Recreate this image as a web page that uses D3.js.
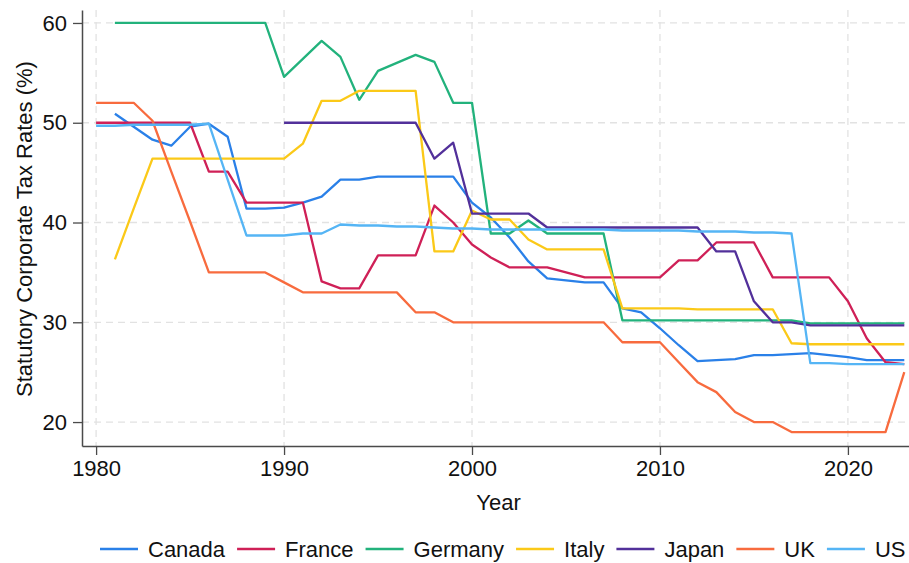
<!DOCTYPE html>
<html>
<head>
<meta charset="utf-8">
<script src="https://cdn.jsdelivr.net/npm/d3@7"></script>
<style>
  body { margin: 0; background: #fff; }
  text { font-family: "Liberation Sans", Arial, Helvetica, sans-serif; }
</style>
</head>
<body>
<div id="chart"></div>
<script>
// data

const countries = ['Canada', 'France', 'Germany', 'Italy', 'Japan', 'UK', 'US'];
const colors = ['#2a80e8', '#cf2057', '#22b27c', '#fbc918', '#52309a', '#f86b3e', '#55b5f5'];

const canadaYears = d3.range(1981, 2024);
const canadaRates = [50.9, 49.6, 48.3, 47.7, 49.6, 49.9, 48.6, 41.4, 41.4, 41.5,
    42.0, 42.6, 44.3, 44.3, 44.6, 44.6, 44.6, 44.6, 44.6, 42.0,
    40.5, 38.5, 36.1, 34.4, 34.2, 34.0, 34.0, 31.4, 31.0, 29.4,
    27.7, 26.1, 26.2, 26.3, 26.7, 26.7, 26.8, 26.9, 26.7, 26.5,
    26.2, 26.2, 26.2];

const franceYears = d3.range(1980, 2024);
const franceRates = [50.0, 50.0, 50.0, 50.0, 50.0, 50.0, 45.1, 45.1, 42.0, 42.0,
    42.0, 42.0, 34.1, 33.4, 33.4, 36.7, 36.7, 36.7, 41.7, 40.0,
    37.8, 36.5, 35.5, 35.5, 35.5, 35.0, 34.5, 34.5, 34.5, 34.5,
    34.5, 36.2, 36.2, 38.0, 38.0, 38.0, 34.5, 34.5, 34.5, 34.5,
    32.1, 28.4, 26.0, 25.8];

const germanyYears = d3.range(1981, 2024);
const germanyRates = [60.0, 60.0, 60.0, 60.0, 60.0, 60.0, 60.0, 60.0, 60.0, 54.6,
    56.4, 58.2, 56.6, 52.3, 55.2, 56.0, 56.8, 56.1, 52.0, 52.0,
    38.9, 38.9, 40.2, 38.9, 38.9, 38.9, 38.9, 30.2, 30.2, 30.2,
    30.2, 30.2, 30.2, 30.2, 30.2, 30.2, 30.2, 29.9, 29.9, 29.9,
    29.9, 29.9, 29.9];

const italyYears = d3.range(1981, 2024);
const italyRates = [36.3, 41.4, 46.4, 46.4, 46.4, 46.4, 46.4, 46.4, 46.4, 46.4,
    47.9, 52.2, 52.2, 53.2, 53.2, 53.2, 53.2, 37.1, 37.1, 41.2,
    40.3, 40.3, 38.3, 37.3, 37.3, 37.3, 37.3, 31.4, 31.4, 31.4,
    31.4, 31.3, 31.3, 31.3, 31.3, 31.3, 27.9, 27.8, 27.8, 27.8,
    27.8, 27.8, 27.8];

const japanYears = d3.range(1990, 2024);
const japanRates = [50.0, 50.0, 50.0, 50.0, 50.0, 50.0, 50.0, 50.0, 46.4, 48.0,
    40.9, 40.9, 40.9, 40.9, 39.5, 39.5, 39.5, 39.5, 39.5, 39.5,
    39.5, 39.5, 39.5, 37.1, 37.1, 32.1, 30.0, 30.0, 29.7, 29.7,
    29.7, 29.7, 29.7, 29.7];

const ukYears = d3.range(1980, 2024);
const ukRates = [52.0, 52.0, 52.0, 50.2, 45.1, 40.1, 35.0, 35.0, 35.0, 35.0,
    34.0, 33.0, 33.0, 33.0, 33.0, 33.0, 33.0, 31.0, 31.0, 30.0,
    30.0, 30.0, 30.0, 30.0, 30.0, 30.0, 30.0, 30.0, 28.0, 28.0,
    28.0, 26.0, 24.0, 23.0, 21.0, 20.0, 20.0, 19.0, 19.0, 19.0,
    19.0, 19.0, 19.0, 25.0];

const usYears = d3.range(1980, 2024);
const usRates = [49.7, 49.7, 49.8, 49.8, 49.8, 49.8, 49.9, 44.3, 38.7, 38.7,
    38.7, 38.9, 38.9, 39.8, 39.7, 39.7, 39.6, 39.6, 39.5, 39.4,
    39.4, 39.3, 39.3, 39.3, 39.3, 39.3, 39.3, 39.3, 39.2, 39.2,
    39.2, 39.2, 39.1, 39.1, 39.1, 39.0, 39.0, 38.9, 25.9, 25.9,
    25.8, 25.8, 25.8, 25.8];

const yearTicks = [1980, 1990, 2000, 2010, 2020];
const rateTicks = [20, 30, 40, 50, 60];

const allYears = [canadaYears, franceYears, germanyYears, italyYears, japanYears, ukYears, usYears];
const allRates = [canadaRates, franceRates, germanyRates, italyRates, japanRates, ukRates, usRates];

// layout

const width = 909, height = 563;
const plot = {left: 82, right: 909, top: 10, bottom: 446};
const fontSize = 22;

const svg = d3.select('#chart')
    .append('svg')
    .attr('width', width)
    .attr('height', height);

let x = d3.scaleLinear()
    .domain([1979.25, 2023.25])
    .range([plot.left, plot.right]);

let y = d3.scaleLinear()
    .domain([17.6, 61.3])
    .range([plot.bottom, plot.top]);

// grid lines
let grid = svg.append('g').attr('class', 'grid');
grid.selectAll('.gx')
    .data(yearTicks)
    .enter()
    .append('line')
    .attr('x1', d => x(d)).attr('x2', d => x(d))
    .attr('y1', plot.top).attr('y2', plot.bottom)
    .attr('stroke', '#e2e2e2')
    .attr('stroke-width', 1.3)
    .attr('stroke-dasharray', '7,5');
grid.selectAll('.gy')
    .data(rateTicks)
    .enter()
    .append('line')
    .attr('x1', plot.left).attr('x2', plot.right)
    .attr('y1', d => y(d)).attr('y2', d => y(d))
    .attr('stroke', '#e2e2e2')
    .attr('stroke-width', 1.3)
    .attr('stroke-dasharray', '7,5');

// lines
let line = d3.line()
    .x(d => x(d[0]))
    .y(d => y(d[1]));

svg.append('g')
    .selectAll('path')
    .data(countries.map((c, i) => ({name: c, color: colors[i], points: d3.zip(allYears[i], allRates[i])})))
    .enter()
    .append('path')
    .attr('d', d => line(d.points))
    .attr('fill', 'none')
    .attr('stroke', d => d.color)
    .attr('stroke-width', 2.3)
    .attr('stroke-linejoin', 'round');

// axes
let xAxis = svg.append('g')
    .attr('transform', `translate(0,${plot.bottom})`)
    .call(d3.axisBottom(x).tickValues(yearTicks).tickFormat(d3.format('d')).tickSize(9).tickPadding(5).tickSizeOuter(0));

let yAxis = svg.append('g')
    .attr('transform', `translate(${plot.left},0)`)
    .call(d3.axisLeft(y).tickValues(rateTicks).tickSize(9).tickPadding(6).tickSizeOuter(0));

[xAxis, yAxis].forEach(a => {
    a.select('.domain').attr('stroke', '#4a4a4a').attr('stroke-width', 1.5);
    a.selectAll('.tick line').attr('stroke', '#4a4a4a').attr('stroke-width', 1.3);
    a.selectAll('.tick text')
        .attr('fill', '#111')
        .style('font-size', fontSize + 'px')
        .style('font-family', '"Liberation Sans", Arial, sans-serif');
});

// axis titles
svg.append('text')
    .attr('x', (plot.left + plot.right) / 2 + 3)
    .attr('y', 510)
    .attr('text-anchor', 'middle')
    .attr('fill', '#111')
    .style('font-size', fontSize + 'px')
    .text('Year');

svg.append('text')
    .attr('transform', `translate(32,${(plot.top + plot.bottom) / 2 + 1}) rotate(-90)`)
    .attr('text-anchor', 'middle')
    .attr('fill', '#111')
    .style('font-size', fontSize + 'px')
    .text('Statutory Corporate Tax Rates (%)');

// legend
let legend = svg.append('g').attr('class', 'legend');
let legX = 100;
const legY = 549;
countries.forEach((c, i) => {
    legend.append('line')
        .attr('x1', legX).attr('x2', legX + 38)
        .attr('y1', legY).attr('y2', legY)
        .attr('stroke', colors[i])
        .attr('stroke-width', 2.3);
    let t = legend.append('text')
        .attr('x', legX + 48)
        .attr('y', legY + 8)
        .attr('fill', '#111')
        .style('font-size', fontSize + 'px')
        .text(c);
    legX += 48 + t.node().getComputedTextLength() + 12;
});
</script>
</body>
</html>
